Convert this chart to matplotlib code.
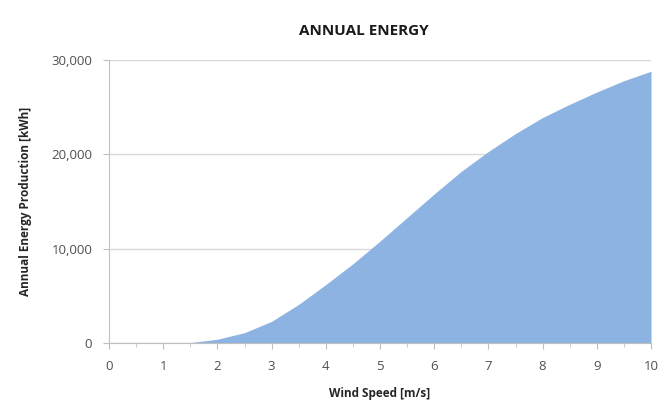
import matplotlib.pyplot as plt
from matplotlib.ticker import FuncFormatter, MultipleLocator

wind_speed = [0, 0.5, 1, 1.5, 2, 2.5, 3, 3.5, 4, 4.5, 5, 5.5, 6, 6.5, 7,
              7.5, 8, 8.5, 9, 9.5, 10]
energy = [0, 0, 0, 50, 400, 1100, 2300, 4100, 6200, 8400, 10800, 13300,
          15800, 18200, 20300, 22200, 23900, 25300, 26600, 27800, 28800]

plt.rcParams['font.family'] = ['Open Sans', 'DejaVu Sans']

fig = plt.figure(figsize=(6.62, 4.05), dpi=100)
ax = fig.add_axes([0.1647, 0.153, 0.8187, 0.699])

ax.fill_between(wind_speed, energy, 0, color='#8db3e2', linewidth=0)

ax.set_xlim(0, 10)
ax.set_ylim(0, 30000)
ax.xaxis.set_major_locator(MultipleLocator(1))
ax.xaxis.set_minor_locator(MultipleLocator(0.5))
ax.yaxis.set_major_locator(MultipleLocator(10000))
ax.yaxis.set_major_formatter(FuncFormatter(lambda v, p: '{:,.0f}'.format(v)))

ax.grid(axis='y', color='#d9d9d9', linewidth=1)
ax.set_axisbelow(True)
for s in ['top', 'right']:
    ax.spines[s].set_visible(False)
ax.spines['left'].set_color('#bfbfbf')
ax.spines['bottom'].set_color('#bfbfbf')
ax.tick_params(axis='both', colors='#bfbfbf', labelcolor='#505050',
               labelsize=9.5, length=4)
ax.tick_params(axis='x', which='minor', colors='#bfbfbf', length=3)
ax.tick_params(axis='x', pad=8)
ax.tick_params(axis='y', pad=8)

ax.set_xlabel('Wind Speed [m/s]', fontsize=8.5, fontweight='bold',
              color='#262626', labelpad=10)
ax.set_ylabel('Annual Energy Production [kWh]', fontsize=8.5,
              fontweight='bold', color='#262626', labelpad=14)
fig.suptitle('ANNUAL ENERGY', x=0.55, y=0.94, fontsize=11,
             fontweight='bold', color='#1a1a1a')

fig.savefig('out.png', dpi=100)
